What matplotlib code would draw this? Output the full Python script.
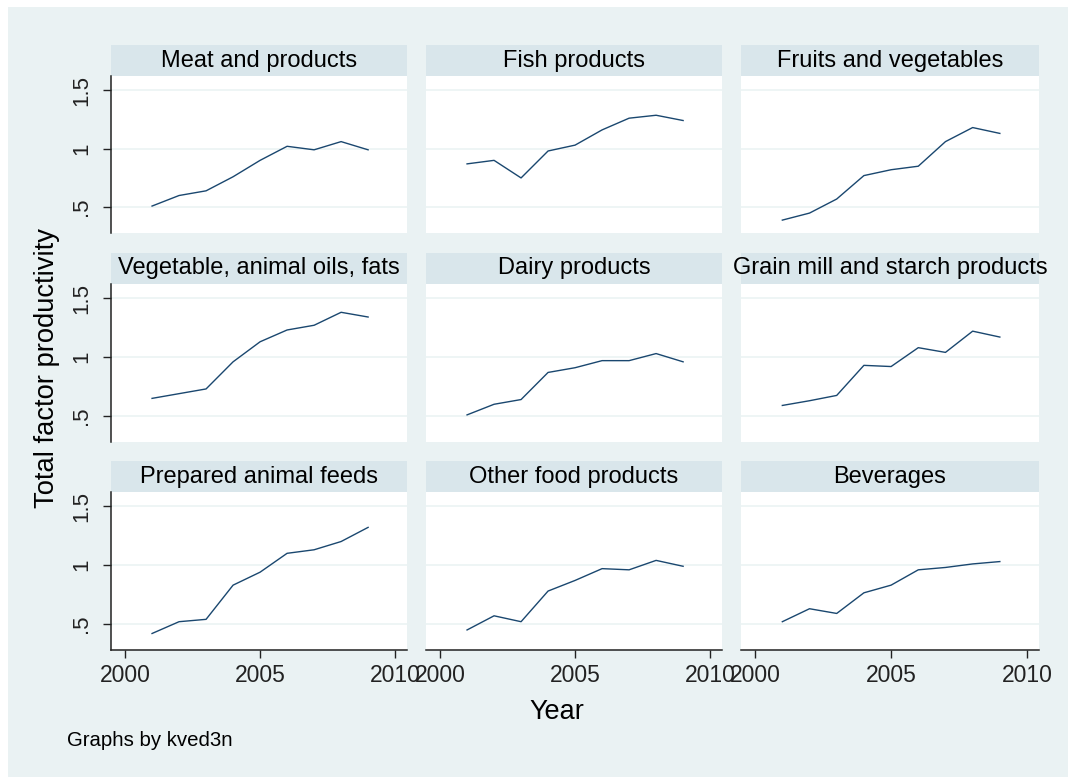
import matplotlib
matplotlib.use("Agg")
import matplotlib.pyplot as plt
from matplotlib.patches import Rectangle

plt.rcParams['font.family'] = ['Liberation Sans', 'DejaVu Sans']

years = [2001, 2002, 2003, 2004, 2005, 2006, 2007, 2008, 2009]

titles = ["Meat and products", "Fish products", "Fruits and vegetables",
          "Vegetable, animal oils, fats", "Dairy products", "Grain mill and starch products",
          "Prepared animal feeds", "Other food products", "Beverages"]

meat = [0.51, 0.60, 0.64, 0.76, 0.90, 1.02, 0.99, 1.06, 0.99]
fish = [0.87, 0.90, 0.75, 0.98, 1.03, 1.16, 1.26, 1.285, 1.24]
fruits = [0.39, 0.45, 0.57, 0.77, 0.82, 0.85, 1.06, 1.18, 1.13]
oils = [0.65, 0.69, 0.73, 0.96, 1.13, 1.23, 1.27, 1.38, 1.34]
dairy = [0.51, 0.60, 0.64, 0.87, 0.91, 0.97, 0.97, 1.03, 0.96]
grain = [0.59, 0.63, 0.675, 0.93, 0.92, 1.08, 1.04, 1.22, 1.17]
feeds = [0.42, 0.52, 0.54, 0.83, 0.94, 1.10, 1.13, 1.20, 1.32]
other = [0.45, 0.57, 0.52, 0.78, 0.87, 0.97, 0.96, 1.04, 0.99]
beverages = [0.52, 0.63, 0.59, 0.765, 0.83, 0.96, 0.98, 1.01, 1.03]

series = [meat, fish, fruits, oils, dairy, grain, feeds, other, beverages]

yticks = [0.5, 1, 1.5]
ytick_labels = [".5", "1", "1.5"]
xticks = [2000, 2005, 2010]

W, H = 1068, 778
BG = "#eaf2f3"
STRIP = "#d9e6eb"
LINE = "#1a476f"

fig = plt.figure(figsize=(W / 100, H / 100), dpi=100)

# light outer panel, leaving a thin white frame
fig.patches.append(Rectangle((8 / W, 1 / H), 1 - 8 / W, 1 - 8 / H,
                             transform=fig.transFigure, facecolor=BG,
                             edgecolor='none', zorder=-10))

# pixel boxes of the plot regions (left, right) and (top, bottom)
cols = [(111, 407), (426, 722), (741, 1039)]
rows = [(76, 233), (284, 442), (492, 650)]
strip_h = 31

for i in range(9):
    r, c = divmod(i, 3)
    x0, x1 = cols[c]
    y0, y1 = rows[r]
    ax = fig.add_axes([x0 / W, 1 - y1 / H, (x1 - x0) / W, (y1 - y0) / H])
    ax.set_facecolor("white")
    ax.plot(years, series[i], color=LINE, linewidth=1.0)
    ax.set_xlim(1999.48, 2010.44)
    ax.set_ylim(0.28, 1.62)
    for yv in yticks:
        ax.axhline(yv, color=BG, linewidth=1.1, zorder=0)

    for s in ax.spines.values():
        s.set_visible(False)

    # panel title strip
    frac = strip_h / (y1 - y0)
    ax.add_patch(Rectangle((0, 1), 1, frac, transform=ax.transAxes,
                           facecolor=STRIP, edgecolor='none', clip_on=False))
    ax.text(0.5, 1 + frac / 2, titles[i], transform=ax.transAxes,
            ha='center', va='center', fontsize=17, color='black')

    if c == 0:
        ax.spines['left'].set_visible(True)
        ax.spines['left'].set_linewidth(1.1)
        ax.spines['left'].set_color('#222222')
        ax.set_yticks(yticks)
        ax.set_yticklabels(ytick_labels, rotation=90, va='center')
        ax.tick_params(axis='y', length=5.8, width=1, pad=8, labelsize=16, colors='#222222')
    else:
        ax.set_yticks([])

    if r == 2:
        ax.spines['bottom'].set_visible(True)
        ax.spines['bottom'].set_linewidth(1.1)
        ax.spines['bottom'].set_color('#222222')
        ax.set_xticks(xticks)
        ax.tick_params(axis='x', length=5.8, width=1, pad=4, labelsize=16.5, colors='#222222')
    else:
        ax.set_xticks([])

fig.text(47 / W, 1 - 368 / H, "Total factor productivity", rotation=90,
         ha='center', va='center', fontsize=19.7)
fig.text(557 / W, 1 - 712 / H, "Year", ha='center', va='center', fontsize=19.5)
fig.text(67 / W, 1 - 741 / H, "Graphs by kved3n", ha='left', va='center', fontsize=14.7)

fig.savefig("out.png", dpi=100)
